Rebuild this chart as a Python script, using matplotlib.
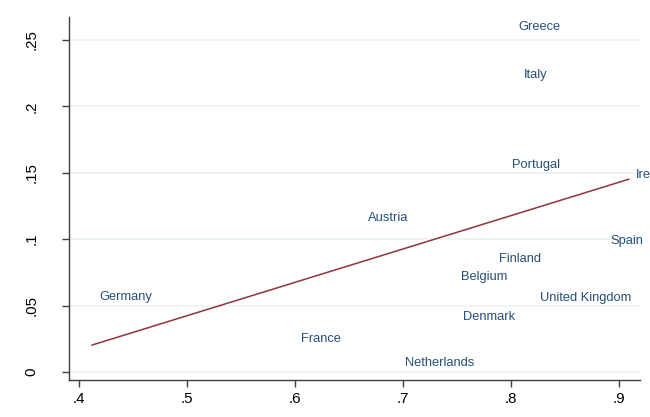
import numpy as np
import matplotlib.pyplot as plt

plt.rcParams['font.family'] = ['Liberation Sans', 'DejaVu Sans']

countries = ['Greece', 'Italy', 'Portugal', 'Ireland', 'Austria', 'Germany',
             'France', 'Netherlands', 'Belgium', 'Spain', 'Finland',
             'United Kingdom', 'Denmark']
x_vals = [0.800, 0.805, 0.794, 0.909, 0.661, 0.412,
          0.599, 0.695, 0.747, 0.886, 0.782, 0.820, 0.749]
y_vals = [0.260, 0.224, 0.156, 0.148, 0.116, 0.0565,
          0.025, 0.007, 0.0715, 0.099, 0.085, 0.0557, 0.0414]

x_ticks = [0.4, 0.5, 0.6, 0.7, 0.8, 0.9]
y_ticks = [0, 0.05, 0.1, 0.15, 0.2, 0.25]
x_ticklabels = ['.4', '.5', '.6', '.7', '.8', '.9']
y_ticklabels = ['0', '.05', '.1', '.15', '.2', '.25']

navy = '#264f7c'
maroon = '#90353b'
grid_col = '#eaf2f3'

fig = plt.figure(figsize=(6.5, 4.17), dpi=100)
ax = fig.add_axes([0.1062, 0.0887, 0.8784, 0.8705])

x = np.array(x_vals)
y = np.array(y_vals)

# linear fit across the range of x
slope, intercept = np.polyfit(x, y, 1)
xs = np.array([x.min(), x.max()])
ax.plot(xs, intercept + slope * xs, color=maroon, lw=1.1, zorder=3)

# country labels to the right of invisible markers
for name, xi, yi in zip(countries, x, y):
    ax.annotate(name, (xi, yi), xytext=(5, 0), textcoords='offset points',
                ha='left', va='center', fontsize=9.3, color=navy,
                annotation_clip=False, clip_on=False)

ax.set_xlim(0.3907, 0.9194)
ax.set_ylim(-0.006, 0.2673)
ax.set_xticks(x_ticks)
ax.set_xticklabels(x_ticklabels)
ax.set_yticks(y_ticks)
ax.set_yticklabels(y_ticklabels, rotation=90, va='center')

ax.grid(axis='y', color=grid_col, lw=1.2)
ax.set_axisbelow(True)
for side in ['top', 'right']:
    ax.spines[side].set_visible(False)
for side in ['left', 'bottom']:
    ax.spines[side].set_color('#404040')
    ax.spines[side].set_linewidth(1.0)
ax.tick_params(axis='both', colors='#404040', labelcolor='black',
               labelsize=10.8, length=5, width=1.0, direction='out')
ax.tick_params(axis='y', pad=17)

fig.savefig('out.png', dpi=100)
